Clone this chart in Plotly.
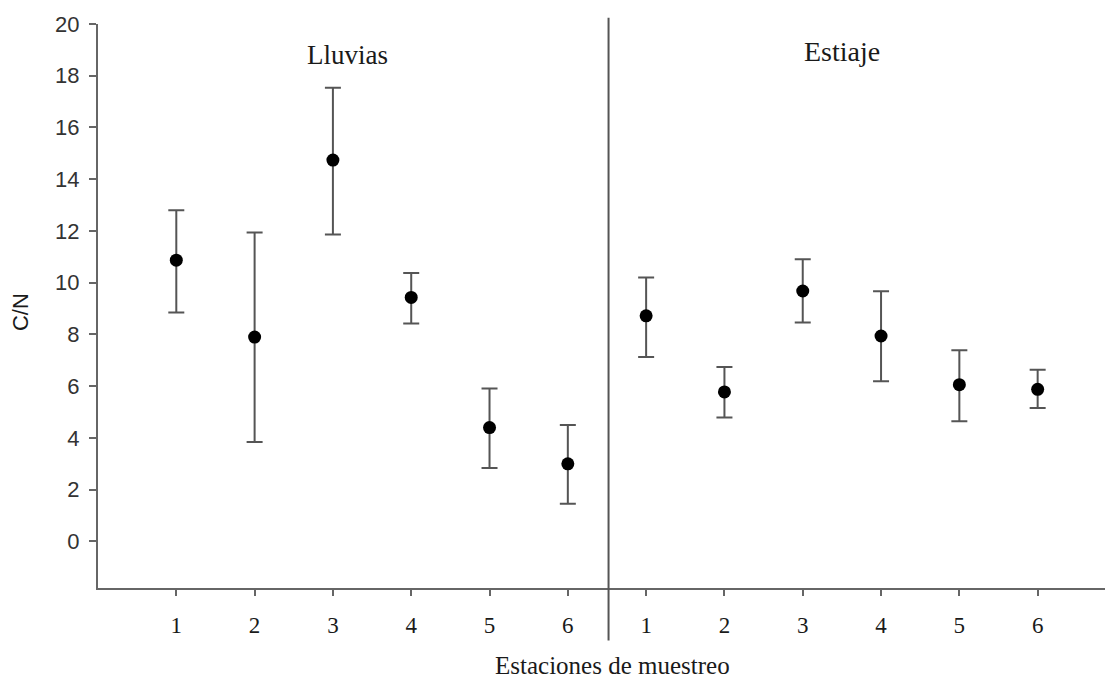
import plotly.graph_objects as go

# Data
stations = [1, 2, 3, 4, 5, 6]
x_lluvias = [1, 2, 3, 4, 5, 6]
x_estiaje = [7, 8, 9, 10, 11, 12]
tick_labels = ["1", "2", "3", "4", "5", "6", "1", "2", "3", "4", "5", "6"]

lluvias_mean = [10.87, 7.90, 14.74, 9.43, 4.40, 3.00]
lluvias_upper = [12.80, 11.94, 17.54, 10.38, 5.91, 4.50]
lluvias_lower = [8.85, 3.84, 11.86, 8.42, 2.84, 1.46]

estiaje_mean = [8.72, 5.78, 9.68, 7.94, 6.06, 5.88]
estiaje_upper = [10.20, 6.74, 10.91, 9.67, 7.39, 6.64]
estiaje_lower = [7.13, 4.79, 8.46, 6.19, 4.65, 5.16]

serif = "Liberation Serif, Times New Roman, serif"
sans = "Liberation Sans, Arial, sans-serif"

fig = go.Figure()

for xs, m, up, lo in [(x_lluvias, lluvias_mean, lluvias_upper, lluvias_lower),
                      (x_estiaje, estiaje_mean, estiaje_upper, estiaje_lower)]:
    fig.add_trace(go.Scatter(
        x=xs, y=m, mode="markers",
        marker=dict(color="black", size=13),
        error_y=dict(type="data", symmetric=False,
                     array=[u - v for u, v in zip(up, m)],
                     arrayminus=[v - l for v, l in zip(m, lo)],
                     color="#555555", thickness=2, width=8),
        showlegend=False,
    ))

# divider between seasons
fig.add_shape(type="line", x0=6.52, x1=6.52, xref="x", yref="paper",
              y0=-0.093, y1=1.011, line=dict(color="#555555", width=2))

fig.add_annotation(x=3.18, y=18.8, text="Lluvias", showarrow=False,
                   font=dict(family=serif, size=27, color="#1a1a1a"))
fig.add_annotation(x=9.5, y=18.95, text="Estiaje", showarrow=False,
                   font=dict(family=serif, size=28, color="#1a1a1a"))
fig.add_annotation(x=0.511, xref="paper", y=-0.137, yref="paper", yanchor="middle",
                   text="Estaciones de muestreo", showarrow=False,
                   font=dict(family=serif, size=25, color="#1a1a1a"))
fig.add_annotation(x=-0.077, xref="paper", xanchor="center", y=0.49, yref="paper",
                   yanchor="middle", textangle=-90,
                   text="C/N", showarrow=False,
                   font=dict(family=sans, size=22, color="#1a1a1a"))

fig.update_layout(
    width=1105, height=679,
    margin=dict(l=98, r=0, t=24, b=91),
    paper_bgcolor="white", plot_bgcolor="white",
    xaxis=dict(range=[0, 12.86], tickvals=x_lluvias + x_estiaje, ticktext=tick_labels,
               showline=True, linecolor="#666666", linewidth=2, ticks="outside",
               ticklen=6, tickwidth=2, tickcolor="#666666", showgrid=False, zeroline=False,
               tickfont=dict(family=serif, size=23, color="#1a1a1a"),
               ticklabelstandoff=9),
    yaxis=dict(range=[-1.8, 20], tickvals=list(range(0, 21, 2)),
               showline=True, linecolor="#666666", linewidth=2, ticks="outside",
               ticklen=7, tickwidth=2, tickcolor="#666666", showgrid=False, zeroline=False,
               tickfont=dict(family=sans, size=22, color="#333333"),
               ticklabelstandoff=5),
)

fig.write_html("out.html")
